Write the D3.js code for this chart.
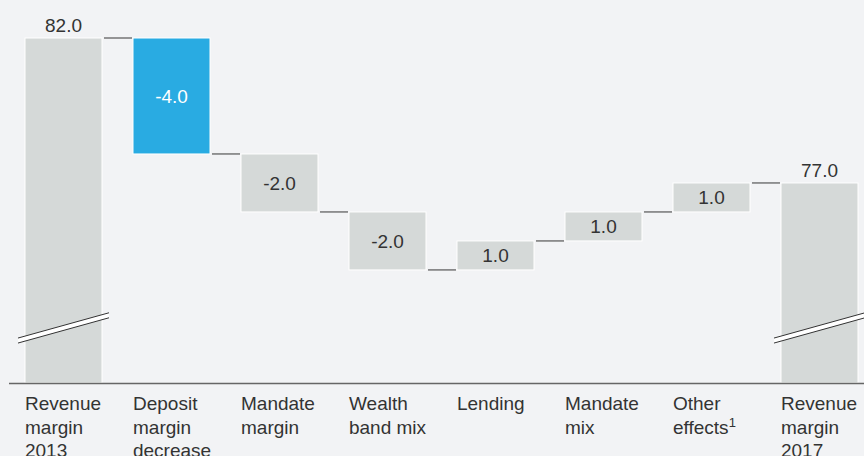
<!DOCTYPE html>
<html>
<head>
<meta charset="utf-8">
<script src="https://cdn.jsdelivr.net/npm/d3@7"></script>
<style>
  html, body { margin: 0; padding: 0; background: #f2f3f5; }
  svg { display: block; font-family: "Liberation Sans", Arial, sans-serif; }
</style>
</head>
<body>
<div id="viz"></div>
<script>
const WIDTH = 864, HEIGHT = 456;

// Waterfall data
const categories = [
  ["Revenue", "margin", "2013"],
  ["Deposit", "margin", "decrease"],
  ["Mandate", "margin"],
  ["Wealth", "band mix"],
  ["Lending"],
  ["Mandate", "mix"],
  ["Other", "effects¹"],
  ["Revenue", "margin", "2017"]
];
const values = [82.0, -4.0, -2.0, -2.0, 1.0, 1.0, 1.0, 77.0];
const kinds = ["total", "highlight", "delta", "delta", "delta", "delta", "delta", "total"];

const COLORS = { total: "#d5d9d8", delta: "#d5d9d8", highlight: "#29abe2" };

// build start/end for each step
let running = 0;
const bars = values.map((v, i) => {
  let start, end;
  if (kinds[i] === "total") { start = null; end = v; running = v; }
  else { start = running; end = running + v; running = end; }
  return { key: i, label: categories[i], value: v, kind: kinds[i], start, end };
});

const svg = d3.select("#viz").append("svg")
  .attr("width", WIDTH).attr("height", HEIGHT);

const x = d3.scaleBand()
  .domain(bars.map(d => d.key))
  .range([9.5, 873.5])
  .paddingInner(0.287)
  .paddingOuter(0.1435);

const y = d3.scaleLinear()
  .domain([70.1, 82])
  .range([383, 38]);

const base = y.range()[0];
const fmt = v => d3.format(".1f")(v).replace("\u2212", "-");

// bars
svg.append("g").selectAll("rect")
  .data(bars)
  .join("rect")
  .attr("x", d => x(d.key))
  .attr("width", x.bandwidth())
  .attr("y", d => d.start === null ? y(d.end) : y(Math.max(d.start, d.end)))
  .attr("height", d => d.start === null ? base - y(d.end) : Math.abs(y(d.start) - y(d.end)))
  .attr("fill", d => COLORS[d.kind])
  .attr("stroke", "#ffffff")
  .attr("stroke-width", 1);

// connectors
svg.append("g").selectAll("line")
  .data(bars.slice(0, -1))
  .join("line")
  .attr("x1", d => x(d.key) + x.bandwidth() + 2)
  .attr("x2", d => x(d.key + 1) - 1)
  .attr("y1", d => y(d.end))
  .attr("y2", d => y(d.end))
  .attr("stroke", "#555")
  .attr("stroke-width", 1.2);

// axis break marks on total bars
const breakLevel = 72;
const breaks = svg.append("g");
bars.filter(d => d.kind === "total").forEach(d => {
  const x0 = x(d.key) - 7, x1 = x(d.key) + x.bandwidth() + 7;
  const yc = y(breakLevel), slope = 25 / 90;
  const ya = yc + (x1 - x0) / 2 * slope, yb = yc - (x1 - x0) / 2 * slope;
  breaks.append("polygon")
    .attr("points", `${x0},${ya - 2.5} ${x1},${yb - 2.5} ${x1},${yb + 2.5} ${x0},${ya + 2.5}`)
    .attr("fill", "#ffffff");
  [-2.5, 2.5].forEach(o => {
    breaks.append("line")
      .attr("x1", x0).attr("y1", ya + o)
      .attr("x2", x1).attr("y2", yb + o)
      .attr("stroke", "#333").attr("stroke-width", 1);
  });
});

// baseline axis
svg.append("line")
  .attr("x1", 9).attr("x2", WIDTH)
  .attr("y1", base + 0.5).attr("y2", base + 0.5)
  .attr("stroke", "#666").attr("stroke-width", 1.5);

// value labels
svg.append("g").selectAll("text")
  .data(bars)
  .join("text")
  .attr("x", d => x(d.key) + x.bandwidth() / 2)
  .attr("y", d => d.start === null ? y(d.end) - 6 : (y(d.start) + y(d.end)) / 2)
  .attr("dy", d => d.start === null ? 0 : "0.35em")
  .attr("text-anchor", "middle")
  .attr("font-size", 19)
  .attr("fill", d => d.kind === "highlight" ? "#ffffff" : "#333")
  .text(d => fmt(d.value));

// category labels
const cat = svg.append("g").selectAll("text")
  .data(bars)
  .join("text")
  .attr("x", d => x(d.key))
  .attr("y", 410)
  .attr("font-size", 19)
  .attr("fill", "#333");

cat.each(function(d) {
  const t = d3.select(this);
  d.label.forEach((line, i) => {
    const sup = line.endsWith("¹");
    t.append("tspan")
      .attr("x", x(d.key))
      .attr("y", 410 + i * 23.5)
      .text(sup ? line.slice(0, -1) : line);
    if (sup) {
      t.append("tspan")
        .attr("dy", -7)
        .attr("font-size", 13)
        .text("1");
    }
  });
});
</script>
</body>
</html>
